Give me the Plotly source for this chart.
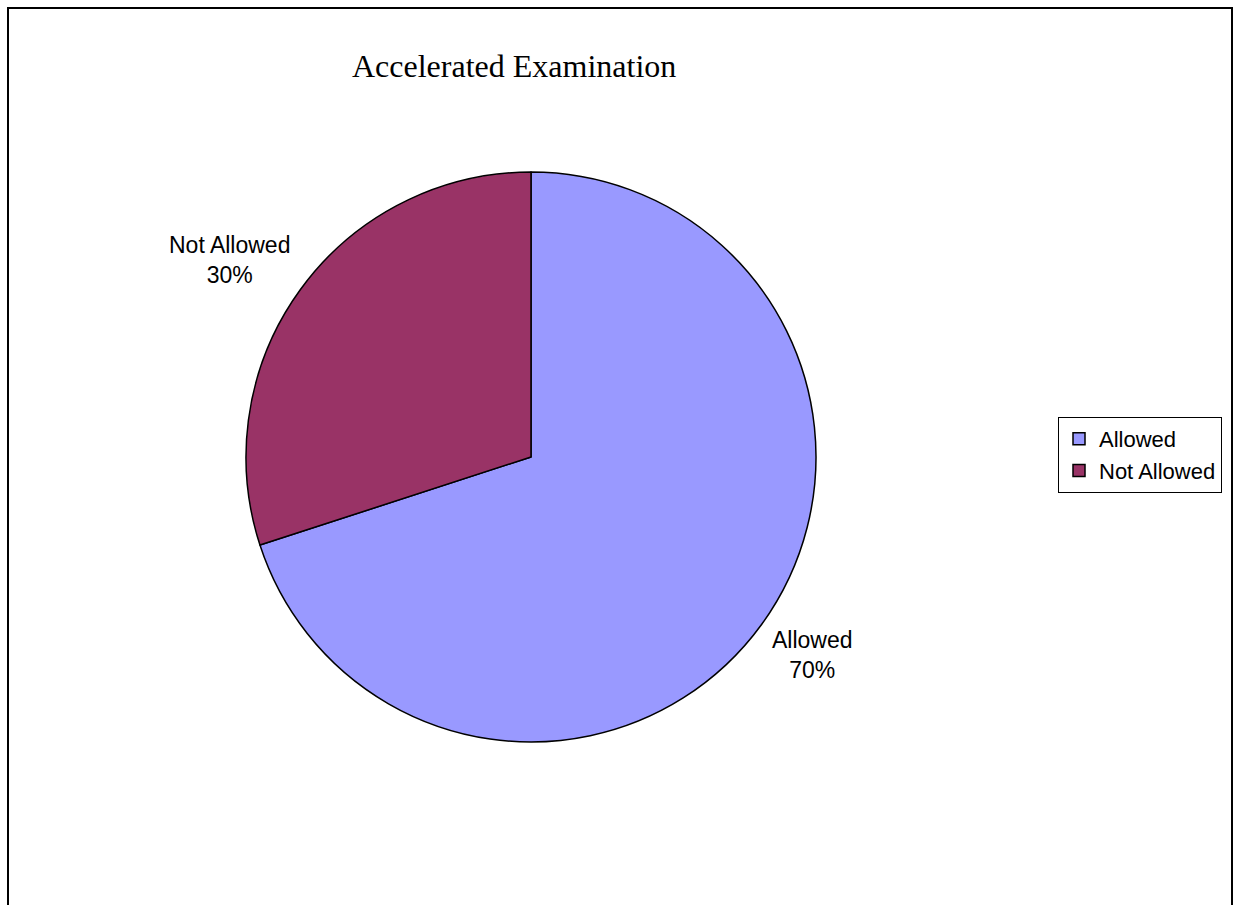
import math
import plotly.graph_objects as go

categories = ["Allowed", "Not Allowed"]
values = [70, 30]
colors = ["#9999FF", "#993366"]
title_text = "Accelerated Examination"

W, H = 1235, 905
cx, cy, r = 531, 457, 285

fig = go.Figure()
fig.add_trace(go.Pie(
    labels=categories, values=values, sort=False, direction="clockwise", rotation=0,
    marker=dict(colors=colors, line=dict(color="black", width=1.5)),
    textinfo="none", hoverinfo="label+percent",
    domain=dict(x=[(cx - r) / W, (cx + r) / W], y=[1 - (cy + r) / H, 1 - (cy - r) / H]),
))

# data labels placed around the pie at each slice's mid-angle
total = sum(values)
cum = 0
label_radius = [1.21, 1.21]
label_shift = [(3, -5), (-23, 6)]
for cat, v, lr, (sx, sy) in zip(categories, values, label_radius, label_shift):
    mid = (cum + v / 2) / total * 2 * math.pi
    cum += v
    px = cx + math.sin(mid) * r * lr + sx
    py = cy - math.cos(mid) * r * lr + sy
    fig.add_annotation(
        x=px / W, y=1 - py / H, xref="paper", yref="paper",
        xanchor="center", yanchor="middle",
        text=f"{cat}<br>{round(v / total * 100)}%", showarrow=False,
        font=dict(family="Liberation Sans, Arial", size=23, color="black"),
        align="center",
    )

fig.add_annotation(
    x=514 / W, y=1 - 66 / H, xref="paper", yref="paper", text=title_text,
    xanchor="center", yanchor="middle",
    showarrow=False, font=dict(family="Liberation Serif, Times New Roman", size=32, color="black"),
)

fig.add_shape(type="rect", xref="paper", yref="paper",
              x0=8 / W, x1=1232 / W, y0=-0.05, y1=1 - 8 / H,
              line=dict(color="black", width=2), fillcolor="rgba(0,0,0,0)")

fig.update_layout(
    width=W, height=H, margin=dict(l=0, r=0, t=0, b=0),
    paper_bgcolor="white", plot_bgcolor="white",
    showlegend=True,
    legend=dict(x=1058 / W, y=1 - 417 / H, xanchor="left", yanchor="top",
                bordercolor="black", borderwidth=1, bgcolor="white",
                font=dict(family="Liberation Sans, Arial", size=22, color="black"),
                itemwidth=30, tracegroupgap=0),
)

fig.write_html("out.html")
